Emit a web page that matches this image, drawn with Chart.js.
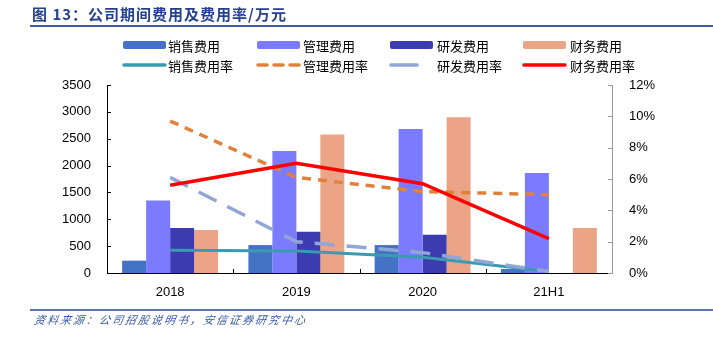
<!DOCTYPE html>
<html><head><meta charset="utf-8">
<script src="https://cdn.jsdelivr.net/npm/chart.js@4/dist/chart.umd.min.js"></script>
<style>
html,body{margin:0;padding:0;background:#fff;width:713px;height:337px;overflow:hidden;}
#title{position:absolute;left:32px;top:3px;font:bold 15px "Noto Sans CJK SC",sans-serif;color:#24408E;letter-spacing:1px;}
#tline{position:absolute;left:30px;top:25px;width:683px;height:2px;background:#3E5BA9;}
#fline{position:absolute;left:30px;top:309px;width:683px;height:2px;background:#5A76B8;}
#src{position:absolute;left:33px;top:311px;font:italic 11px "Noto Sans CJK SC",sans-serif;color:#3B5BA5;letter-spacing:2px;transform:skewX(-10deg);transform-origin:left bottom;}
#wrap{position:absolute;left:0;top:0;width:713px;height:337px;}
</style></head><body>
<div id="wrap"><canvas id="c" width="713" height="337"></canvas></div>
<div id="title">图 13：公司期间费用及费用率/万元</div>
<div id="tline"></div>
<div id="fline"></div>
<div id="src">资料来源：公司招股说明书，安信证券研究中心</div>
<script>
const categories = ['2018', '2019', '2020', '21H1'];
const salesExp   = [230, 520, 520, 75];
const mgmtExp    = [1350, 2270, 2680, 1860];
const rdExp      = [840, 770, 710, 0];
const finExp     = [800, 2580, 2900, 840];
const salesRate  = [1.45, 1.4, 1.0, 0.1];
const mgmtRate   = [9.7, 6.1, 5.2, 5.0];
const rdRate     = [6.1, 2.0, 1.3, 0.1];
const finRate    = [5.6, 7.0, 5.7, 2.2];
const leftTicks  = [0, 500, 1000, 1500, 2000, 2500, 3000, 3500];
const rightTicks = [0, 2, 4, 6, 8, 10, 12];

const CJK = '"Noto Sans CJK SC", sans-serif';
const NUM = '"Liberation Sans", Arial, sans-serif';

const legendPlugin = {
  id: 'fixedLegend',
  afterDraw(chart) {
    const ctx = chart.ctx;
    const cols = [[123, 168], [257, 303], [390, 437], [523, 570]];
    const rows = [45, 65];
    const ds = chart.data.datasets;
    ctx.save();
    ctx.font = '13px ' + CJK;
    ctx.textBaseline = 'middle';
    ds.forEach((d, i) => {
      const r = Math.floor(i / 4), c = i % 4;
      const [sx, tx] = cols[c];
      const y = rows[r];
      if (d.type === 'bar') {
        ctx.fillStyle = d.backgroundColor;
        ctx.beginPath();
        ctx.roundRect(sx, y - 4, 43, 8, 2);
        ctx.fill();
      } else {
        ctx.strokeStyle = d.borderColor;
        ctx.lineWidth = 3.5;
        ctx.lineCap = 'round';
        ctx.setLineDash(d.legendDash || []);
        ctx.beginPath();
        ctx.moveTo(sx + 1, y);
        ctx.lineTo(sx + (d.legendLen || 42), y);
        ctx.stroke();
        ctx.setLineDash([]);
      }
      ctx.fillStyle = '#000';
      ctx.fillText(d.label, tx, y + 1);
    });
    ctx.restore();
  }
};

const tickPlugin = {
  id: 'inTicks',
  afterDatasetsDraw(chart) {
    const ctx = chart.ctx;
    const a = chart.chartArea;
    const yl = chart.scales.y, yr = chart.scales.y2, x = chart.scales.x;
    ctx.save();
    ctx.lineWidth = 1;
    ctx.strokeStyle = '#000';
    leftTicks.forEach(v => {
      const p = Math.round(yl.getPixelForValue(v)) + 0.5;
      ctx.beginPath(); ctx.moveTo(a.left, p); ctx.lineTo(a.left + 4, p); ctx.stroke();
    });
    for (let i = 1; i < categories.length; i++) {
      const p = Math.round((x.getPixelForValue(i - 1) + x.getPixelForValue(i)) / 2) + 0.5;
      ctx.beginPath(); ctx.moveTo(p, a.bottom); ctx.lineTo(p, a.bottom - 4); ctx.stroke();
    }
    ctx.strokeStyle = '#999';
    rightTicks.forEach(v => {
      const p = Math.round(yr.getPixelForValue(v)) + 0.5;
      ctx.beginPath(); ctx.moveTo(a.right, p); ctx.lineTo(a.right - 4, p); ctx.stroke();
    });
    ctx.restore();
  }
};

const lineBase = { type: 'line', yAxisID: 'y2', fill: false, pointRadius: 0, tension: 0, order: 0, borderCapStyle: 'butt' };

new Chart(document.getElementById('c'), {
  data: {
    labels: categories,
    datasets: [
      { type: 'bar', label: '销售费用', data: salesExp, backgroundColor: '#4472C4', yAxisID: 'y', order: 1 },
      { type: 'bar', label: '管理费用', data: mgmtExp, backgroundColor: '#7B7BFF', yAxisID: 'y', order: 1 },
      { type: 'bar', label: '研发费用', data: rdExp, backgroundColor: '#3C3CB0', yAxisID: 'y', order: 1 },
      { type: 'bar', label: '财务费用', data: finExp, backgroundColor: '#EBA586', yAxisID: 'y', order: 1 },
      Object.assign({}, lineBase, { label: '销售费用率', data: salesRate, borderColor: '#3A9AAF', borderWidth: 3, order: 0.4 }),
      Object.assign({}, lineBase, { label: '管理费用率', data: mgmtRate, borderColor: '#E0823C', borderWidth: 3.5, borderDash: [9, 7], legendDash: [9, 7], order: 0.3 }),
      Object.assign({}, lineBase, { label: '研发费用率', data: rdRate, borderColor: '#8FA6D6', borderWidth: 3.5, borderDash: [20, 12], legendDash: [], legendLen: 27, order: 0.2 }),
      Object.assign({}, lineBase, { label: '财务费用率', data: finRate, borderColor: '#FF0000', borderWidth: 3.5, order: 0.1 })
    ]
  },
  options: {
    responsive: false,
    animation: false,
    layout: { padding: { top: 85, bottom: 30, left: 0, right: 0 } },
    plugins: { legend: { display: false }, tooltip: { enabled: false }, title: { display: false } },
    datasets: { bar: { categoryPercentage: 0.76, barPercentage: 1.0 } },
    scales: {
      x: {
        offset: true,
        grid: { display: false },
        border: { display: true, color: '#000', width: 1 },
        ticks: { color: '#000', font: { family: NUM, size: 13 }, padding: 4 },
        afterFit(s) { s.height = 34; }
      },
      y: {
        position: 'left', min: 0, max: 3500,
        afterBuildTicks(s) { s.ticks = leftTicks.map(v => ({ value: v })); },
        grid: { display: false },
        border: { display: true, color: '#000', width: 1 },
        ticks: { color: '#000', font: { family: NUM, size: 13 }, padding: 8, callback: v => String(v) },
        afterFit(s) { s.width = 107; }
      },
      y2: {
        position: 'right', min: 0, max: 12,
        afterBuildTicks(s) { s.ticks = rightTicks.map(v => ({ value: v })); },
        grid: { display: false },
        border: { display: true, color: '#999', width: 1 },
        ticks: { color: '#000', font: { family: NUM, size: 13 }, padding: 9, callback: v => v + '%' },
        afterFit(s) { s.width = 101; }
      }
    }
  },
  plugins: [legendPlugin, tickPlugin]
});
</script>
</body></html>
